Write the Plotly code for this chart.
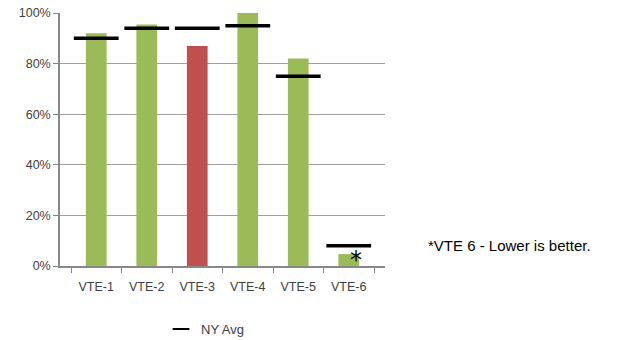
import plotly.graph_objects as go

categories = ["VTE-1", "VTE-2", "VTE-3", "VTE-4", "VTE-5", "VTE-6"]
hospital_values = [0.92, 0.955, 0.87, 1.00, 0.82, 0.047]
ny_avg = [0.90, 0.94, 0.94, 0.95, 0.75, 0.08]
bar_colors = ["#9BBB59", "#9BBB59", "#C0504D", "#9BBB59", "#9BBB59", "#9BBB59"]
y_ticks = [0, 0.2, 0.4, 0.6, 0.8, 1.0]
y_tick_labels = ["0%", "20%", "40%", "60%", "80%", "100%"]

fig = go.Figure()
fig.add_trace(go.Bar(
    x=categories, y=hospital_values,
    marker=dict(color=bar_colors, line=dict(width=0)),
    width=0.41, showlegend=False, name="Hospital",
))
fig.add_trace(go.Scatter(
    x=categories, y=ny_avg, mode="markers", name="NY Avg",
    marker=dict(symbol="line-ew", size=32, color="black",
                line=dict(width=3.5, color="black")),
))

fig.add_annotation(x="VTE-6", y=0.085, xref="x", yref="y", text="*",
                   showarrow=False, yanchor="top",
                   font=dict(size=24, color="black", family="DejaVu Sans"),
                   xshift=7, borderpad=0)
fig.add_annotation(xref="paper", yref="paper",
                   x=(426 - 60) / 325, y=(266 - 245) / 253,
                   xanchor="left", yanchor="middle",
                   text="*VTE 6 - Lower is better.",
                   showarrow=False, font=dict(size=15, color="black", family="Liberation Sans"))

fig.update_layout(
    width=623, height=340,
    margin=dict(l=60, r=238, t=13, b=74, autoexpand=False),
    plot_bgcolor="white", paper_bgcolor="white",
    font=dict(family="Liberation Sans", size=12, color="#404040"),
    legend=dict(orientation="h", x=(205 - 60) / 325, y=-0.19, xanchor="center",
                yanchor="top", font=dict(size=13, color="#404040"),
                itemsizing="constant", itemwidth=30),
)
fig.update_xaxes(
    showline=True, linecolor="#888888", linewidth=1.5, automargin=False,
    ticks="outside", tickson="boundaries", ticklen=5, tickcolor="#888888",
    showgrid=False, tickfont=dict(size=12.5), ticklabelstandoff=8,
)
fig.update_yaxes(
    range=[0, 1.0], tickvals=y_ticks, ticktext=y_tick_labels, automargin=False,
    showline=True, linecolor="#888888", linewidth=1.5,
    ticks="outside", ticklen=5, tickcolor="#888888",
    showgrid=True, gridcolor="#A0A0A0", gridwidth=1.2, zeroline=False,
    tickfont=dict(size=12.5),
)

fig.write_html("out.html")
